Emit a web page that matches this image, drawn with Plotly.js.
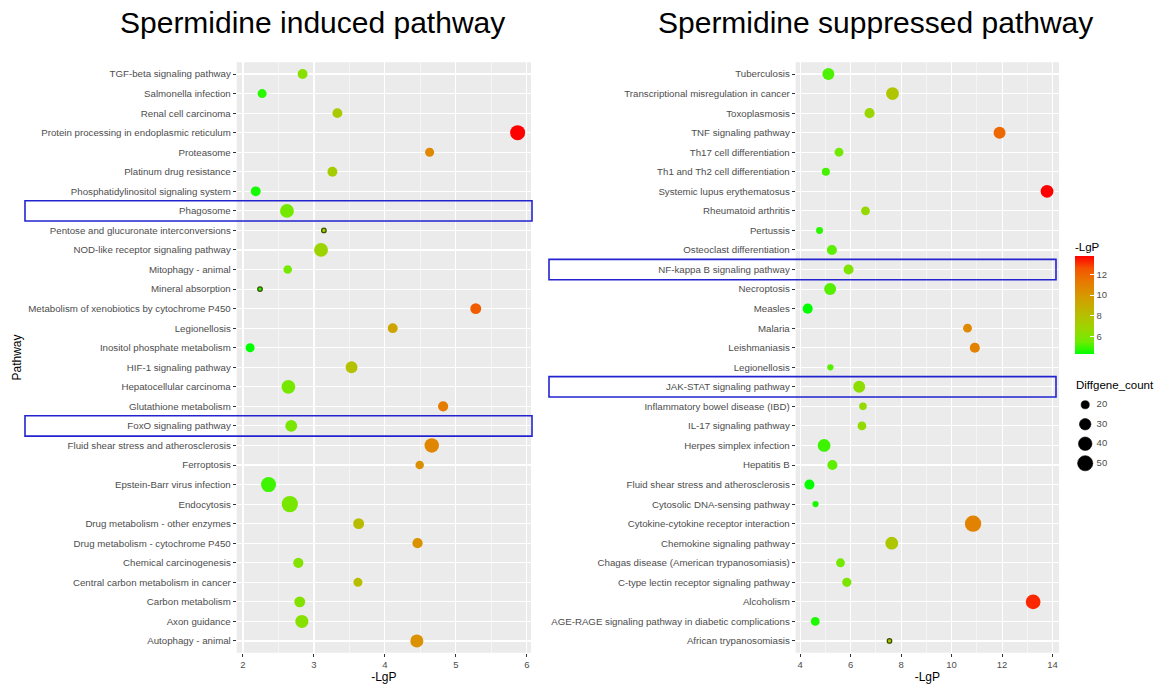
<!DOCTYPE html>
<html>
<head>
<meta charset="utf-8">
<script src="https://cdn.plot.ly/plotly-3.0.1.min.js"></script>
<style>html,body{margin:0;padding:0;background:#fff;}#chart{width:1167px;height:688px;}</style>
</head>
<body>
<div id="chart"></div>
<script>
// ---------------- DATA ----------------
const leftTitle = 'Spermidine induced pathway';
const rightTitle = 'Spermidine suppressed pathway';

const leftPathways = ['TGF-beta signaling pathway','Salmonella infection','Renal cell carcinoma','Protein processing in endoplasmic reticulum','Proteasome','Platinum drug resistance','Phosphatidylinositol signaling system','Phagosome','Pentose and glucuronate interconversions','NOD-like receptor signaling pathway','Mitophagy - animal','Mineral absorption','Metabolism of xenobiotics by cytochrome P450','Legionellosis','Inositol phosphate metabolism','HIF-1 signaling pathway','Hepatocellular carcinoma','Glutathione metabolism','FoxO signaling pathway','Fluid shear stress and atherosclerosis','Ferroptosis','Epstein-Barr virus infection','Endocytosis','Drug metabolism - other enzymes','Drug metabolism - cytochrome P450','Chemical carcinogenesis','Central carbon metabolism in cancer','Carbon metabolism','Axon guidance','Autophagy - animal'];
const leftLgP = [2.84,2.27,3.33,5.87,4.63,3.26,2.18,2.62,3.14,3.10,2.63,2.24,5.28,4.11,2.10,3.53,2.64,4.82,2.68,4.66,4.49,2.36,2.66,3.63,4.46,2.78,3.62,2.80,2.83,4.45];
const leftCount = [13,11,13,33,11,13,13,27,6,27,10,6,16,13,11,19,27,14,19,30,10,33,40,16,14,14,11,16,24,24];
const leftHighlighted = ['Phagosome','FoxO signaling pathway'];

const rightPathways = ['Tuberculosis','Transcriptional misregulation in cancer','Toxoplasmosis','TNF signaling pathway','Th17 cell differentiation','Th1 and Th2 cell differentiation','Systemic lupus erythematosus','Rheumatoid arthritis','Pertussis','Osteoclast differentiation','NF-kappa B signaling pathway','Necroptosis','Measles','Malaria','Leishmaniasis','Legionellosis','JAK-STAT signaling pathway','Inflammatory bowel disease (IBD)','IL-17 signaling pathway','Herpes simplex infection','Hepatitis B','Fluid shear stress and atherosclerosis','Cytosolic DNA-sensing pathway','Cytokine-cytokine receptor interaction','Chemokine signaling pathway','Chagas disease (American trypanosomiasis)','C-type lectin receptor signaling pathway','Alcoholism','AGE-RAGE signaling pathway in diabetic complications','African trypanosomiasis'];
const rightLgP = [5.12,7.66,6.75,11.90,5.54,5.02,13.78,6.59,4.77,5.26,5.92,5.19,4.30,10.63,10.92,5.20,6.34,6.49,6.45,4.95,5.28,4.37,4.61,10.85,7.63,5.60,5.85,13.23,4.60,7.54];
const rightCount = [35,39,27,35,23,21,39,23,19,27,27,35,27,23,27,18,35,20,23,39,27,27,18,62,39,23,24,51,23,17];
const rightHighlighted = ['NF-kappa B signaling pathway','JAK-STAT signaling pathway'];

const colorTicks = [6,8,10,12];
const sizeBreaks = [20,30,40,50];
const xTitle = '-LgP';
const yTitle = 'Pathway';
const colorTitle = '-LgP';
const sizeTitle = 'Diffgene_count';

// ---------------- STYLE ----------------
const FONT = 'Liberation Sans, Arial, Helvetica, sans-serif';
const W = 1167, H = 688;
const TICKCOL = '#4D4D4D';
const PANEL = '#EBEBEB';
const BOX = '#2323CF';
// green -> red gradient interpolated in Lab space (as ggplot2 scale_colour_gradient)
const gradient = [[0,'rgb(0,255,0)'],[0.125,'rgb(112,235,0)'],[0.25,'rgb(152,215,0)'],[0.375,'rgb(179,194,0)'],[0.5,'rgb(200,171,0)'],[0.625,'rgb(218,146,0)'],[0.75,'rgb(232,118,0)'],[0.875,'rgb(244,83,0)'],[1,'rgb(255,0,0)']];
const DMIN = 4.5, DMAX = 16.3;

function sizeScale(counts){
  const lo = Math.min(...counts), hi = Math.max(...counts);
  return c => DMIN + (DMAX - DMIN) * Math.sqrt(Math.max(0, (c - lo) / (hi - lo)));
}
function expandRange(v){
  const lo = Math.min(...v), hi = Math.max(...v), pad = 0.05 * (hi - lo);
  return [lo - pad, hi + pad];
}
const px = v => v / W;
const py = v => (H - v) / H;

const sL = sizeScale(leftCount), sR = sizeScale(rightCount);
const leftSizes = leftCount.map(sL), rightSizes = rightCount.map(sR);

function dotTrace(x, y, sizes, xa, ya, showscale){
  const t = {
    type:'scatter', mode:'markers', x:x, y:y, xaxis:xa, yaxis:ya,
    hovertemplate:'%{y}<br>-LgP: %{x}<extra></extra>',
    marker:{
      color:x, colorscale:gradient, cmin:Math.min(...x), cmax:Math.max(...x),
      size:sizes, opacity:1,
      line:{width:sizes.map(s => s < 5.5 ? 1.3 : 0), color:'#3b5000'},
      showscale:showscale
    },
    showlegend:false
  };
  if (showscale){
    t.marker.colorbar = {
      x:px(1075), xanchor:'left', y:py(354), yanchor:'bottom',
      len:115, lenmode:'pixels', thickness:19, thicknessmode:'pixels',
      xpad:0, ypad:0, outlinewidth:0,
      tickvals:colorTicks, ticks:'inside', ticklen:4, tickcolor:'#ffffff', tickwidth:1,
      tickfont:{size:9.5, color:TICKCOL, family:FONT},
      title:{text:colorTitle, side:'top', font:{size:11.5, color:'#000', family:FONT}}
    };
  }
  return t;
}

const traces = [
  dotTrace(leftLgP, leftPathways, leftSizes, 'x', 'y', false),
  dotTrace(rightLgP, rightPathways, rightSizes, 'x2', 'y2', true),
  {type:'scatter', mode:'markers', x:sizeBreaks.map(() => 0.17), y:sizeBreaks.map(String),
   xaxis:'x3', yaxis:'y3', marker:{color:'#000000', opacity:1, size:sizeBreaks.map(s => sR(s) + 0.6), line:{width:0.6, color:'#000000'}}, hoverinfo:'skip', showlegend:false},
  {type:'scatter', mode:'text', x:sizeBreaks.map(() => 0.36), y:sizeBreaks.map(String), text:sizeBreaks.map(String),
   textposition:'middle right', textfont:{size:9.5, color:TICKCOL, family:FONT},
   xaxis:'x3', yaxis:'y3', hoverinfo:'skip', showlegend:false}
];

const yDomain = [py(652.7), py(62.3)];
function xAxis(domain, data, dtick, anchor){
  return {domain:domain, range:expandRange(data), autorange:false, anchor:anchor,
    tick0:0, dtick:dtick, ticks:'outside', ticklen:3, tickwidth:1, tickcolor:'#333333',
    tickfont:{size:9.5, color:TICKCOL, family:FONT},
    showgrid:true, gridcolor:'#ffffff', gridwidth:1.1,
    minor:{dtick:dtick/2, tick0:0, showgrid:true, gridcolor:'#ffffff', gridwidth:0.5, ticks:''},
    zeroline:false, showline:false, fixedrange:true,
    title:{text:xTitle, font:{size:12, color:'#000', family:FONT}, standoff:3}};
}
function yAxis(cats, anchor, title){
  const a = {domain:yDomain, type:'category', categoryorder:'array', categoryarray:cats,
    range:[cats.length - 0.4, -0.6], autorange:false, anchor:anchor,
    ticks:'outside', ticklen:3, tickwidth:1, tickcolor:'#333333',
    tickfont:{size:9.7, color:TICKCOL, family:FONT},
    showgrid:true, gridcolor:'#ffffff', gridwidth:1.1, zeroline:false, showline:false, fixedrange:true};
  if (title) a.title = {text:title, font:{size:12, color:'#000', family:FONT}, standoff:4};
  return a;
}

function boxes(list, cats, yref, x0, x1){
  return list.map(name => {
    const i = cats.indexOf(name);
    return {type:'rect', xref:'paper', yref:yref, x0:x0, x1:x1, y0:i - 0.52, y1:i + 0.52,
      line:{color:BOX, width:1.6}, fillcolor:'rgba(0,0,0,0)', layer:'above'};
  });
}

const shapes = [
  {type:'rect', xref:'x domain', yref:'y domain', x0:0, x1:1, y0:0, y1:1, fillcolor:PANEL, line:{width:0}, layer:'below'},
  {type:'rect', xref:'x2 domain', yref:'y2 domain', x0:0, x1:1, y0:0, y1:1, fillcolor:PANEL, line:{width:0}, layer:'below'}
].concat(boxes(leftHighlighted, leftPathways, 'y', px(25), px(532)))
 .concat(boxes(rightHighlighted, rightPathways, 'y2', px(549), px(1056)));

const layout = {
  width:W, height:H, margin:{l:0, r:0, t:0, b:0, autoexpand:false},
  paper_bgcolor:'#ffffff', plot_bgcolor:'rgba(0,0,0,0)',
  font:{family:FONT, color:'#000'},
  showlegend:false,
  xaxis:xAxis([px(236.7), px(531)], leftLgP, 1, 'y'),
  yaxis:yAxis(leftPathways, 'x', yTitle),
  xaxis2:xAxis([px(795.7), px(1059)], rightLgP, 2, 'y2'),
  yaxis2:yAxis(rightPathways, 'x2', null),
  xaxis3:{domain:[px(1075), px(1135)], range:[0,1], visible:false, fixedrange:true, anchor:'y3'},
  yaxis3:{domain:[py(473), py(395)], type:'category', categoryorder:'array', categoryarray:sizeBreaks.map(String),
          range:[3.5,-0.5], autorange:false, visible:false, fixedrange:true, anchor:'x3'},
  shapes:shapes,
  annotations:[
    {text:leftTitle, xref:'paper', yref:'paper', x:px(312), y:py(23), xanchor:'center', yanchor:'middle', showarrow:false, font:{size:30, color:'#000', family:FONT}},
    {text:rightTitle, xref:'paper', yref:'paper', x:px(875), y:py(23), xanchor:'center', yanchor:'middle', showarrow:false, font:{size:30, color:'#000', family:FONT}},
    {text:sizeTitle, xref:'paper', yref:'paper', x:px(1074), y:py(385), xanchor:'left', yanchor:'middle', showarrow:false, font:{size:11.5, color:'#000', family:FONT}}
  ]
};

Plotly.newPlot('chart', traces, layout, {displayModeBar:false, staticPlot:true});
</script>
</body>
</html>
